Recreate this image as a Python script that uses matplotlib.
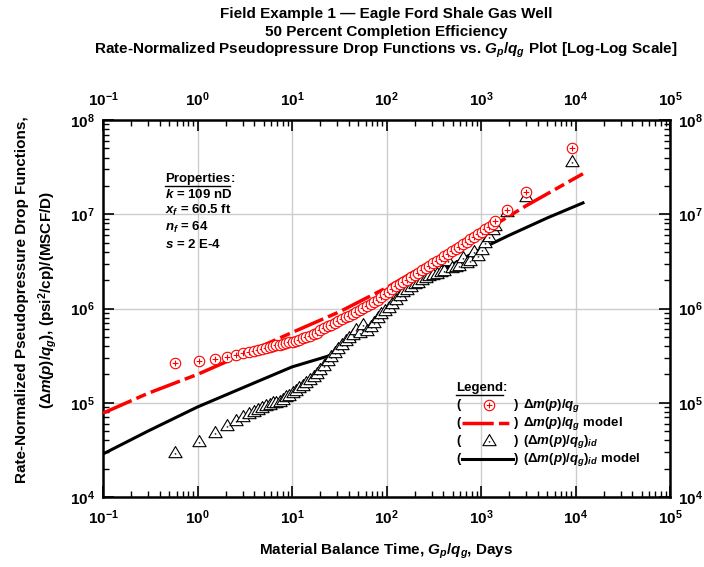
import numpy as np
import matplotlib
matplotlib.use('Agg')
import matplotlib.pyplot as plt
from matplotlib.lines import Line2D
from matplotlib.path import Path
from matplotlib.ticker import FixedLocator, LogFormatterMathtext, NullFormatter

plt.rcParams['font.family'] = ['Liberation Sans', 'DejaVu Sans']
plt.rcParams['font.weight'] = 'bold'
plt.rcParams['mathtext.fontset'] = 'custom'
plt.rcParams['mathtext.rm'] = 'Liberation Sans:bold'
plt.rcParams['mathtext.it'] = 'Liberation Sans:italic:bold'
plt.rcParams['mathtext.bf'] = 'Liberation Sans:bold'
plt.rcParams['mathtext.sf'] = 'Liberation Sans:bold'

# ---------------- data ----------------
mbt = [0.58, 1.04, 1.53, 2.05, 2.55, 3.03, 3.5, 3.95, 4.4, 4.85, 5.3, 5.8, 6.3, 6.8,
       7.4, 8.0, 8.7, 9.4, 10.2, 11, 12, 13, 14.2, 15.5, 17, 18.5, 20, 22, 24, 26,
       28.5, 31, 34, 37, 40, 44, 48, 52, 57, 62, 68, 74, 81, 88, 96, 105, 115, 126,
       138, 151, 165, 181, 198, 217, 238, 260, 285, 312, 342, 374, 410, 449, 492,
       539, 590, 646, 707, 774, 848, 928, 1016, 1113, 1219, 1335, 1420, 1880, 2990, 9130]

dmp_qg = [2.63e5, 2.77e5, 2.91e5, 3.05e5, 3.21e5, 3.37e5, 3.47e5, 3.55e5, 3.63e5, 3.72e5,
          3.80e5, 3.91e5, 3.98e5, 4.06e5, 4.13e5, 4.22e5, 4.30e5, 4.37e5, 4.45e5, 4.55e5,
          4.68e5, 4.81e5, 4.95e5, 5.13e5, 5.33e5, 5.56e5, 5.89e5, 6.17e5, 6.46e5, 6.76e5,
          7.08e5, 7.41e5, 7.76e5, 8.13e5, 8.41e5, 8.81e5, 9.23e5, 9.66e5, 1.01e6, 1.06e6,
          1.11e6, 1.17e6, 1.24e6, 1.32e6, 1.41e6, 1.51e6, 1.60e6, 1.72e6, 1.82e6, 1.93e6,
          2.02e6, 2.14e6, 2.26e6, 2.40e6, 2.54e6, 2.69e6, 2.85e6, 3.02e6, 3.20e6, 3.39e6,
          3.59e6, 3.80e6, 4.03e6, 4.27e6, 4.52e6, 4.84e6, 5.13e6, 5.43e6, 5.75e6, 6.10e6,
          6.46e6, 6.92e6, 7.41e6, 7.94e6, 8.41e6, 1.11e7, 1.72e7, 5.01e7]

dmp_qg_id = [2.93e4, 3.84e4, 4.79e4, 5.66e4, 6.40e4, 7.02e4, 7.59e4, 8.04e4, 8.41e4, 8.81e4,
             9.23e4, 9.55e4, 9.86e4, 1.00e5, 1.02e5, 1.07e5, 1.14e5, 1.19e5, 1.26e5, 1.33e5,
             1.43e5, 1.51e5, 1.61e5, 1.74e5, 1.88e5, 2.04e5, 2.24e5, 2.48e5, 2.75e5, 3.05e5,
             3.39e5, 3.72e5, 4.07e5, 4.57e5, 4.90e5, 5.25e5, 5.89e5, 5.50e5, 6.76e5, 5.75e5,
             6.31e5, 7.08e5, 7.94e5, 8.71e5, 9.33e5, 1.02e6, 1.12e6, 1.23e6, 1.35e6, 1.48e6,
             1.58e6, 1.70e6, 1.80e6, 1.88e6, 2.00e6, 2.09e6, 2.19e6, 2.26e6, 2.34e6, 2.43e6,
             2.51e6, 3.16e6, 2.66e6, 2.75e6, 2.85e6, 3.47e6, 3.02e6, 3.16e6, 3.98e6, 3.63e6,
             4.17e6, 5.01e6, 5.75e6, 6.76e6, 7.59e6, 1.06e7, 1.53e7, 3.61e7]

model_x = [0.1, 0.3, 1, 3, 10, 32, 100, 300, 1000, 3000, 10000, 12000]
model_dmp = [7.76e4, 1.26e5, 2.00e5, 3.24e5, 5.56e5, 9.25e5, 1.66e6, 3.16e6, 6.31e6,
             1.23e7, 2.43e7, 2.69e7]

model_id_x = [0.1, 0.3, 1, 3, 10, 25, 35, 50, 70, 100, 200, 400, 1000, 2000, 5000, 12000]
model_id = [2.86e4, 5.01e4, 9.02e4, 1.44e5, 2.40e5, 3.16e5, 3.80e5, 5.01e5, 6.92e5,
            9.55e5, 1.66e6, 2.60e6, 4.30e6, 6.00e6, 9.12e6, 1.32e7]

x_ticks = [1e-1, 1e0, 1e1, 1e2, 1e3, 1e4, 1e5]
y_ticks = [1e4, 1e5, 1e6, 1e7, 1e8]

W, H = 704, 567


def fx(x):
    return x / W


def fy(y):
    return 1 - y / H


# circle-with-plus marker, triangle-with-dot marker
circ = Path.unit_circle()
plus = Path([(-0.55, 0), (0.55, 0), (0, -0.55), (0, 0.55)],
            [Path.MOVETO, Path.LINETO, Path.MOVETO, Path.LINETO])
oplus = Path.make_compound_path(circ, plus)
tri = Path([(0, 1), (-0.95, -0.6), (0.95, -0.6), (0, 1)],
           [Path.MOVETO, Path.LINETO, Path.LINETO, Path.CLOSEPOLY])
dot = Path.circle((0, -0.05), 0.04)
tridot = Path.make_compound_path(tri, dot)

fig = plt.figure(figsize=(W / 100, H / 100), dpi=100)
ax = fig.add_axes([fx(103), fy(497), (670 - 103) / W, (497 - 120) / H])
ax.set_xscale('log')
ax.set_yscale('log')
ax.set_xlim(1e-1, 1e5)
ax.set_ylim(1e4, 1e8)
ax.grid(True, which='major', color='#cccccc', lw=1.0)
ax.set_axisbelow(True)

ax.plot(model_id_x, model_id, color='black', lw=2.2, zorder=2)
ax.plot(mbt, dmp_qg_id, ls='none', marker=tridot, ms=10, mfc='white', mec='black',
        mew=0.8, zorder=3)
ax.plot(model_x, model_dmp, color='red', lw=2.5, ls=(0, (9, 1.5, 3, 1.5)), zorder=4)
ax.plot(mbt, dmp_qg, ls='none', marker=oplus, ms=7.5, mfc='white', mec='red',
        mew=0.8, zorder=5)


def minors(lo, hi):
    out = []
    for e in range(lo, hi):
        for m in range(2, 10):
            out.append(m * 10.0 ** e)
    return out


ax.xaxis.set_major_locator(FixedLocator(x_ticks))
ax.yaxis.set_major_locator(FixedLocator(y_ticks))
ax.xaxis.set_minor_locator(FixedLocator(minors(-1, 5)))
ax.yaxis.set_minor_locator(FixedLocator(minors(4, 8)))
for axis in (ax.xaxis, ax.yaxis):
    axis.set_major_formatter(LogFormatterMathtext())
    axis.set_minor_formatter(NullFormatter())

ax.tick_params(which='both', direction='in', top=True, right=True,
               labeltop=True, labelright=True, labelsize=11)
ax.tick_params(which='major', length=8, width=1.2)
ax.tick_params(which='minor', length=4, width=1.0)
ax.tick_params(axis='x', which='major', pad=8)
ax.tick_params(axis='y', which='major', pad=6)
for s in ax.spines.values():
    s.set_linewidth(1.8)

# titles
fs_t = 11
fig.text(fx(386), fy(14), 'Field Example 1 \u2014 Eagle Ford Shale Gas Well', ha='center',
         va='center', fontsize=fs_t, fontweight='bold')
fig.text(fx(386), fy(32), '50 Percent Completion Efficiency', ha='center', va='center',
         fontsize=fs_t, fontweight='bold')
fig.text(fx(386), fy(50), r'Rate-Normalized Pseudopressure Drop Functions vs. $G_p/q_g$ Plot [Log-Log Scale]',
         ha='center', va='center', fontsize=fs_t, fontweight='bold')

fig.text(fx(386), fy(551), r'Material Balance Time, $G_p/q_g$, Days', ha='center', va='center',
         fontsize=fs_t, fontweight='bold')
fig.text(fx(22), fy(300), 'Rate-Normalized Pseudopressure Drop Functions,', ha='center',
         va='center', rotation=90, fontsize=fs_t, fontweight='bold')
fig.text(fx(48), fy(300), r'$(\Delta m(p)/q_g)$, (psi$^2$/cp)/(MSCF/D)', ha='center',
         va='center', rotation=90, fontsize=fs_t, fontweight='bold')

# properties block
fs_s = 9.5
fig.canvas.draw()
rend = fig.canvas.get_renderer()


def underlined(x, y, word):
    t = fig.text(fx(x), fy(y), word, ha='left', va='center', fontsize=fs_s, fontweight='bold')
    bb = t.get_window_extent(renderer=rend)
    fig.add_artist(Line2D([bb.x0 / W, bb.x1 / W], [fy(y + 6.5), fy(y + 6.5)],
                          transform=fig.transFigure, color='black', lw=1.0))
    fig.text(bb.x1 / W, fy(y), ':', ha='left', va='center', fontsize=fs_s, fontweight='bold')


underlined(165, 179, 'Properties')
props = [r'$k$ = 109 nD', r'$x_f$ = 60.5 ft', r'$n_f$ = 64', r'$s$ = 2 E-4']
for i, p in enumerate(props):
    fig.text(fx(165), fy(194 + 16.7 * i), p, ha='left', va='center', fontsize=fs_s,
             fontweight='bold')

# legend block
underlined(456, 388, 'Legend')
rows = [405, 423, 441, 459]
labels = [r'$\Delta m(p)/q_g$', r'$\Delta m(p)/q_g$ model', r'$(\Delta m(p)/q_g)_{id}$',
          r'$(\Delta m(p)/q_g)_{id}$ model']
for r, lab in zip(rows, labels):
    fig.text(fx(456), fy(r), '(', ha='left', va='center', fontsize=fs_s, fontweight='bold')
    fig.text(fx(514), fy(r), ')', ha='left', va='center', fontsize=fs_s, fontweight='bold')
    fig.text(fx(523), fy(r), lab, ha='left', va='center', fontsize=fs_s, fontweight='bold')
fig.add_artist(Line2D([fx(489)], [fy(rows[0])], transform=fig.transFigure, ls='none',
                      marker=oplus, ms=7.5, mfc='white', mec='red', mew=0.8))
fig.add_artist(Line2D([fx(462), fx(513)], [fy(rows[1]), fy(rows[1])], transform=fig.transFigure,
                      color='red', lw=2.5, ls=(0, (9, 1.5, 3, 1.5))))
fig.add_artist(Line2D([fx(489)], [fy(rows[2])], transform=fig.transFigure, ls='none',
                      marker=tridot, ms=10, mfc='white', mec='black', mew=0.8))
fig.add_artist(Line2D([fx(462), fx(513)], [fy(rows[3]), fy(rows[3])], transform=fig.transFigure,
                      color='black', lw=2.2))

fig.savefig('out.png', dpi=100)
